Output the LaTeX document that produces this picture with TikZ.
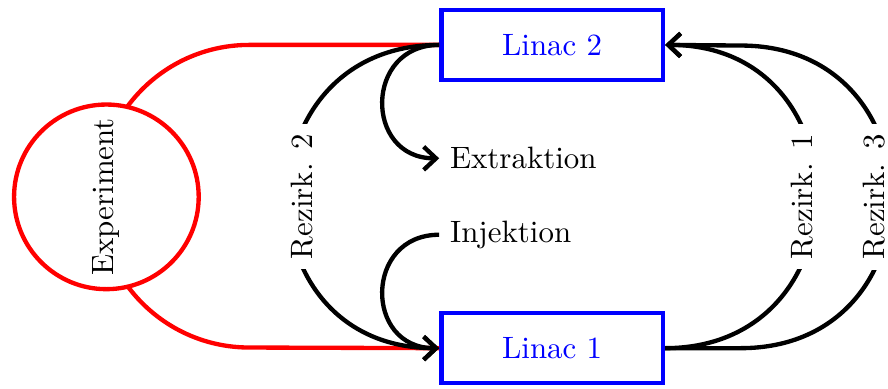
\documentclass[tikz,border=0pt]{standalone}
\usepackage{tikz}
\usetikzlibrary{arrows.meta, positioning}

\begin{document}
\begin{tikzpicture}[>={Straight Barb[length=4pt, width=7.5pt]},
    linac/.style={draw=blue, text=blue, line width=1.4pt, fill=white, minimum width=2.52cm, minimum height=0.8cm},
    beam/.style={line width=1.4pt},
    ring/.style={line width=1.4pt, red},
    lbl/.style={fill=white, rotate=90}]
    \useasboundingbox (-6.28,-0.455) rectangle (3.82,3.96);

    \node[linac] (l1) {Linac 1};
    \node[linac, above=2.6cm of l1] (l2) {Linac 2};

    \node[anchor=west] (ext) at ([yshift=-1.29cm]l2.west) {Extraktion};
    \node[anchor=west] (inj) at ([yshift=1.29cm]l1.west) {Injektion};

    % Strahlweg ueber das Experiment
    \draw[ring] (l2.west) -- ++(-2.16,0) arc[start angle=90, end angle=270, radius=1.721cm] -- (l1.west);
    \node[circle, draw=red, line width=1.4pt, fill=white, minimum size=2.1cm, rotate=90] (exp) at (-5.07,1.721) {Experiment};

    % Rezirkulationen
    \draw[beam, ->] (l1.east) to[out=0, in=0, looseness=1.7] node[xshift=-4.5pt, lbl] {Rezirk. 1} (l2.east);
    \draw[beam, ->] (l2.west) to[out=180, in=180, looseness=1.7] node[xshift=4.5pt, lbl] {Rezirk. 2} (l1.west);
    \draw[beam, ->] (l1.east) -- ++(0.86,0) to[out=0, in=0, looseness=1.7] node[xshift=-5.5pt, lbl] {Rezirk. 3} ++(0,3.442) -- (l2.east);

    % Ein- und Auskopplung
    \draw[beam, ->] (l2.west) to[out=180, in=180, looseness=1.7] (ext.west);
    \draw[beam, ->] (inj.west) to[out=180, in=180, looseness=1.7] (l1.west);
\end{tikzpicture}
\end{document}
